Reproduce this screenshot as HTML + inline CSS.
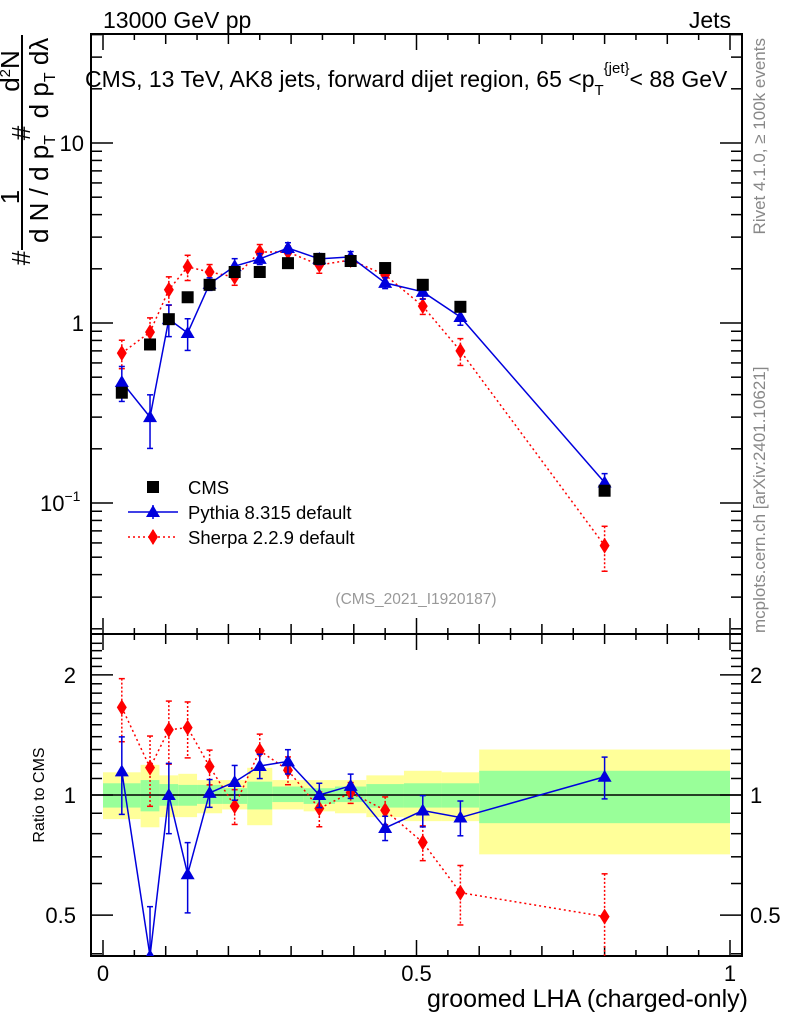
<!DOCTYPE html>
<html><head><meta charset="utf-8"><style>
body{margin:0;background:#fff}
svg{display:block;font-family:"Liberation Sans",sans-serif}
</style></head><body>
<svg id="chart" width="786" height="1024" viewBox="0 0 786 1024" xmlns="http://www.w3.org/2000/svg">
<defs>
<clipPath id="clipMain"><rect x="91" y="34" width="651" height="600"/></clipPath>
<clipPath id="clipRatio"><rect x="91" y="634" width="651" height="322"/></clipPath>
</defs>
<text x="103" y="28" font-size="23">13000 GeV pp</text>
<text x="731" y="28" font-size="23" text-anchor="end">Jets</text>
<g id="bands" clip-path="url(#clipRatio)"></g>
<g id="frames"></g>
<g id="seriesMain" clip-path="url(#clipMain)"></g>
<g id="seriesRatio" clip-path="url(#clipRatio)"></g>
<text x="85" y="87" font-size="23">CMS, 13 TeV, AK8 jets, forward dijet region, 65 &lt;p<tspan font-size="15" dy="8">T</tspan><tspan font-size="15" dy="-22">{jet}</tspan><tspan dy="14">&lt; 88 GeV</tspan></text>
<text x="416" y="604" font-size="15.5" fill="#999" text-anchor="middle">(CMS_2021_I1920187)</text>
<text transform="translate(44,795) rotate(-90)" font-size="16" text-anchor="middle">Ratio to CMS</text>
<text x="748" y="1007" font-size="25" text-anchor="end">groomed LHA (charged-only)</text>
<g font-size="26">
<line x1="22" y1="35" x2="22" y2="250" stroke="#000" stroke-width="2"/>
<text transform="translate(30,258) rotate(-90)" text-anchor="middle">#</text>
<text transform="translate(19,197) rotate(-90)" text-anchor="middle">1</text>
<text transform="translate(48,189) rotate(-90)" text-anchor="middle">d N / d p<tspan font-size="16" dy="7">T</tspan></text>
<text transform="translate(30,133) rotate(-90)" text-anchor="middle">#</text>
<text transform="translate(48,78) rotate(-90)" text-anchor="middle">d p<tspan font-size="16" dy="7">T</tspan><tspan dy="-7">  dλ</tspan></text>
<text transform="translate(19,71) rotate(-90)" text-anchor="middle">d<tspan font-size="15" dy="-9">2</tspan><tspan dy="9">N</tspan></text>
</g>
<text transform="translate(765,38) rotate(-90)" font-size="17" fill="#888" text-anchor="end">Rivet 4.1.0, ≥ 100k events</text>
<text transform="translate(765,633) rotate(-90)" font-size="17" fill="#888" text-anchor="start">mcplots.cern.ch [arXiv:2401.10621]</text>
<g id="legend"></g>
</svg>
<script>
const xCenters=[0.03,0.075,0.105,0.135,0.17,0.21,0.25,0.295,0.345,0.395,0.45,0.51,0.57,0.80];
const binEdges=[0,0.06,0.09,0.12,0.15,0.19,0.23,0.27,0.32,0.37,0.42,0.48,0.54,0.60,1.0];
const cmsValues=[0.41,0.76,1.05,1.39,1.63,1.92,1.92,2.15,2.27,2.21,2.02,1.63,1.23,0.117];
const pythiaValues=[0.47,0.30,1.05,0.88,1.65,2.07,2.27,2.61,2.27,2.33,1.67,1.49,1.08,0.130];
const pythiaRelErr=[0.22,0.33,0.2,0.2,0.08,0.1,0.07,0.07,0.07,0.07,0.07,0.09,0.1,0.12];
const sherpaValues=[0.68,0.89,1.53,2.05,1.92,1.8,2.48,2.48,2.1,2.24,1.85,1.24,0.70,0.058];
const sherpaRelErr=[0.18,0.2,0.18,0.16,0.1,0.1,0.1,0.08,0.1,0.06,0.08,0.1,0.17,0.28];
const greenHi=[1.07,1.09,1.065,1.06,1.06,1.04,1.08,1.05,1.04,1.05,1.065,1.07,1.07,1.15];
const greenLo=[0.93,0.91,0.94,0.94,0.95,0.95,0.92,0.96,0.95,0.96,0.93,0.93,0.93,0.85];
const yellowHi=[1.14,1.19,1.12,1.13,1.09,1.09,1.17,1.09,1.09,1.09,1.12,1.15,1.14,1.30];
const yellowLo=[0.87,0.83,0.88,0.88,0.90,0.92,0.84,0.92,0.91,0.90,0.88,0.86,0.86,0.71];
const mainYTicks=[{v:10,l:"10"},{v:1,l:"1"},{v:0.1,l:"10"}];
const ratioYTicks=[{v:2,l:"2"},{v:1,l:"1"},{v:0.5,l:"0.5"}];
const xTicks=[{v:0,l:"0"},{v:0.5,l:"0.5"},{v:1,l:"1"}];

const NS="http://www.w3.org/2000/svg";
const L=91,R=742,T=34,MB=634,RB=956;
const X=v=>103+627*v;
const YM=v=>323-180*Math.log10(v);
const YR=v=>795-399*Math.log10(v);
function mk(p,tag,a){const e=document.createElementNS(NS,tag);for(const k in a)e.setAttribute(k,a[k]);p.appendChild(e);return e;}
const bands=document.getElementById('bands'),fr=document.getElementById('frames'),seM=document.getElementById('seriesMain'),seR=document.getElementById('seriesRatio'),lg=document.getElementById('legend');

for(let i=0;i<xCenters.length;i++){
  const x0=X(binEdges[i]),x1=X(binEdges[i+1]);
  const y=mk(bands,'rect',{x:x0,y:YR(yellowHi[i]),width:x1-x0,height:YR(yellowLo[i])-YR(yellowHi[i]),fill:'#ffff99'});
  
  
  const g=mk(bands,'rect',{x:x0,y:YR(greenHi[i]),width:x1-x0,height:YR(greenLo[i])-YR(greenHi[i]),fill:'#99ff99'});
  
  
}
mk(fr,'line',{x1:L,x2:R,y1:YR(1),y2:YR(1),stroke:'#000','stroke-width':1.5});
mk(fr,'rect',{x:L,y:T,width:R-L,height:MB-T,fill:'none',stroke:'#000','stroke-width':2});
mk(fr,'rect',{x:L,y:MB,width:R-L,height:RB-MB,fill:'none',stroke:'#000','stroke-width':2});
for(let k=0;k<=20;k++){const v=k*0.05,x=X(v),len=(k%10==0)?16:(k%2==0?10:6);
  if(x>R)continue;
  mk(fr,'line',{x1:x,x2:x,y1:T,y2:T+len,stroke:'#000','stroke-width':1.5});
  mk(fr,'line',{x1:x,x2:x,y1:MB,y2:MB-len,stroke:'#000','stroke-width':1.5});
  mk(fr,'line',{x1:x,x2:x,y1:MB,y2:MB+len,stroke:'#000','stroke-width':1.5});
  mk(fr,'line',{x1:x,x2:x,y1:RB,y2:RB-len,stroke:'#000','stroke-width':1.5});
}
xTicks.forEach(t=>{const e=mk(fr,'text',{x:X(t.v),y:981,'font-size':22,'text-anchor':'middle'});e.textContent=t.l;
  
  });
for(let d=-2;d<=1;d++)for(let m=1;m<=9;m++){const v=m*Math.pow(10,d),y=YM(v);if(y<T||y>MB)continue;const len=m==1?22:11;
  mk(fr,'line',{x1:L,x2:L+len,y1:y,y2:y,stroke:'#000','stroke-width':1.5});
  mk(fr,'line',{x1:R,x2:R-len,y1:y,y2:y,stroke:'#000','stroke-width':1.5});}
mainYTicks.forEach(t=>{const e=mk(fr,'text',{x:84,y:YM(t.v)+8,'font-size':22,'text-anchor':'end'});
  
  
  if(t.v==0.1){e.innerHTML='10<tspan font-size="14" dy="-10">−1</tspan>';e.setAttribute('x',40);e.setAttribute('text-anchor','start');}else e.textContent=t.l;});
for(let k=3;k<=24;k++){const v=k/10,y=YR(v);if(y<MB||y>RB)continue;const len=(v==0.5||v==1||v==2)?22:11;
  mk(fr,'line',{x1:L,x2:L+len,y1:y,y2:y,stroke:'#000','stroke-width':1.5});
  mk(fr,'line',{x1:R,x2:R-len,y1:y,y2:y,stroke:'#000','stroke-width':1.5});}
ratioYTicks.forEach(t=>{const a=mk(fr,'text',{x:76,y:YR(t.v)+8,'font-size':22,'text-anchor':'end'});a.textContent=t.l;
  
  
  const b=mk(fr,'text',{x:750,y:YR(t.v)+8,'font-size':22});b.textContent=t.l;
  
  });

function marker(p,type,x,y,c){
  if(type=='sq')return mk(p,'rect',{x:x-6,y:y-6,width:12,height:12,fill:c});
  if(type=='tri')return mk(p,'polygon',{points:`${x},${y-7} ${x-7},${y+5} ${x+7},${y+5}`,fill:c});
  return mk(p,'polygon',{points:`${x},${y-8} ${x-5},${y} ${x},${y+8} ${x+5},${y}`,fill:c});
}
function drawSeries(vals,rel,color,dash,type,name){
  [[seM,i=>vals[i],YM],[seR,i=>vals[i]/cmsValues[i],YR]].forEach(([par,val,Y])=>{
    const g=mk(par,'g',{});
    
    
    const la={fill:'none',stroke:color,'stroke-width':1.5};if(dash)la['stroke-dasharray']='2,3';
    mk(g,'polyline',Object.assign({points:xCenters.map((x,i)=>X(x)+','+Y(val(i))).join(' ')},la));
    xCenters.forEach((xv,i)=>{const x=X(xv),v=val(i);
      const a=Y(v*(1+rel[i])),b=Y(v*(1-rel[i])),c=Y(v);
      const ea={x1:x,x2:x,y1:a,y2:b,stroke:color,'stroke-width':1.5};if(dash)ea['stroke-dasharray']='2,2';
      mk(g,'line',ea);mk(g,'line',{x1:x-3,x2:x+3,y1:a,y2:a,stroke:color,'stroke-width':1.5});mk(g,'line',{x1:x-3,x2:x+3,y1:b,y2:b,stroke:color,'stroke-width':1.5});
      const m=marker(g,type,x,c,color);
      
      
    });
  });
}
drawSeries(sherpaValues,sherpaRelErr,'#ff0000',true,'dia','sherpa');
drawSeries(pythiaValues,pythiaRelErr,'#0000dd',false,'tri','pythia');
xCenters.forEach((xv,i)=>{const m=marker(seM,'sq',X(xv),YM(cmsValues[i]),'#000');
  
  });
const le=[['CMS','sq','#000',null],['Pythia 8.315 default','tri','#0000dd',false],['Sherpa 2.2.9 default','dia','#ff0000',true]];
le.forEach((d,i)=>{const y=487+25*i;const g=mk(lg,'g',{});
  
  
  if(d[3]!==null){const a={x1:128,x2:178,y1:y,y2:y,stroke:d[2],'stroke-width':1.5};if(d[3])a['stroke-dasharray']='2,3';mk(g,'line',a);
    const b={x1:153,x2:153,y1:y-7,y2:y+7,stroke:d[2],'stroke-width':1.5};if(d[3])b['stroke-dasharray']='2,2';mk(g,'line',b);}
  marker(g,d[1],153,y,d[2]);
  const t=mk(g,'text',{x:188,y:y+7,'font-size':18.5});t.textContent=d[0];});
</script>
</body></html>
